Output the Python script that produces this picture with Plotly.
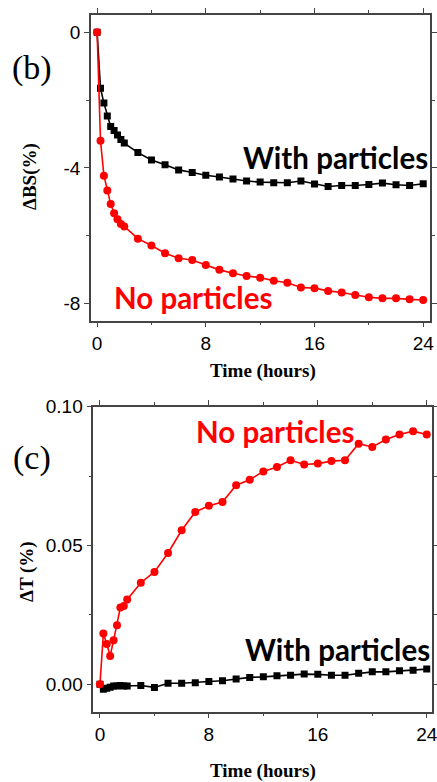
import plotly.graph_objects as go

# ---- data ----
time_h = [0, 0.25, 0.5, 0.75, 1, 1.25, 1.5, 1.75, 2, 3, 4, 5, 6, 7, 8, 9, 10, 11, 12,
          13, 14, 15, 16, 17, 18, 19, 20, 21, 22, 23, 24]

bs_with = [0, -1.65, -2.09, -2.47, -2.78, -2.90, -3.03, -3.16, -3.27, -3.55, -3.77, -3.91,
           -4.06, -4.14, -4.22, -4.27, -4.33, -4.39, -4.42, -4.44, -4.44, -4.39, -4.48,
           -4.55, -4.52, -4.52, -4.49, -4.45, -4.50, -4.52, -4.47]
bs_no = [0, -3.20, -4.23, -4.67, -5.07, -5.34, -5.52, -5.66, -5.73, -6.09, -6.29, -6.52,
         -6.67, -6.72, -6.87, -7.01, -7.11, -7.19, -7.24, -7.33, -7.39, -7.53, -7.55,
         -7.63, -7.68, -7.75, -7.82, -7.85, -7.85, -7.88, -7.90]

t_no = [0, 0.0183, 0.0145, 0.0102, 0.0159, 0.0213, 0.0277, 0.0282, 0.0306, 0.0366, 0.0405,
        0.0473, 0.0555, 0.0621, 0.0643, 0.0657, 0.0717, 0.0737, 0.0767, 0.0783, 0.0807,
        0.0792, 0.0795, 0.0804, 0.0807, 0.0867, 0.0855, 0.0882, 0.0900, 0.0912, 0.0900]
t_with = [0, -0.0018, -0.0014, -0.0010, -0.0006, -0.0006, -0.0004, -0.0006, -0.0006,
          -0.0004, -0.0011, 0.0004, 0.0004, 0.0006, 0.0010, 0.0013, 0.0019, 0.0025, 0.0027,
          0.0031, 0.0033, 0.0037, 0.0036, 0.0033, 0.0033, 0.0040, 0.0045, 0.0045, 0.0049,
          0.0051, 0.0055]

x_tickvals = [0, 8, 16, 24]
x_ticktext = ["0", "8", "16", "24"]
bs_tickvals = [0, -4, -8]
bs_ticktext = ["0", "-4", "-8"]
t_tickvals = [0.0, 0.05, 0.10]
t_ticktext = ["0.00", "0.05", "0.10"]

W, H = 437, 782
RED = "#FF0000"
BLACK = "#000000"
AX = "#444444"
TICKFONT = dict(family="Liberation Sans, Arial", size=19, color="#000")


def px(x):
    return x / W


def py(y):
    return 1 - y / H


fig = go.Figure()

fig.add_trace(go.Scatter(x=time_h, y=bs_with, mode="lines+markers",
                         line=dict(color=BLACK, width=1.6),
                         marker=dict(symbol="square", size=7, color=BLACK),
                         xaxis="x", yaxis="y", showlegend=False))
fig.add_trace(go.Scatter(x=time_h, y=bs_no, mode="lines+markers",
                         line=dict(color=RED, width=1.6),
                         marker=dict(symbol="circle", size=8, color=RED),
                         xaxis="x", yaxis="y", showlegend=False))
fig.add_trace(go.Scatter(x=time_h, y=t_with, mode="lines+markers",
                         line=dict(color=BLACK, width=1.6),
                         marker=dict(symbol="square", size=7, color=BLACK),
                         xaxis="x2", yaxis="y2", showlegend=False))
fig.add_trace(go.Scatter(x=time_h, y=t_no, mode="lines+markers",
                         line=dict(color=RED, width=1.6),
                         marker=dict(symbol="circle", size=8, color=RED),
                         xaxis="x2", yaxis="y2", showlegend=False))

axis_common = dict(showline=True, linecolor=AX, linewidth=1.5, mirror="allticks",
                   ticks="outside", ticklen=5, tickwidth=1.2, tickcolor=AX,
                   showgrid=False, zeroline=False, tickfont=TICKFONT, tickmode="array",
                   automargin=False, ticklabeloverflow="allow")

fig.update_layout(
    width=W, height=H,
    margin=dict(l=0, r=0, t=0, b=0, pad=0, autoexpand=False),
    paper_bgcolor="white", plot_bgcolor="white",
    xaxis=dict(domain=[px(91), px(430)], anchor="y", range=[-0.45, 24.5],
               tickvals=x_tickvals, ticktext=x_ticktext,
               minor=dict(tickmode="linear", tick0=0, dtick=4, ticks="outside",
                          ticklen=3, tickcolor=AX, tickwidth=1.2),
               **axis_common),
    yaxis=dict(domain=[py(320.7), py(15)], anchor="x", range=[-8.51, 0.51],
               tickvals=bs_tickvals, ticktext=bs_ticktext,
               minor=dict(tickmode="linear", tick0=0, dtick=2, ticks="outside",
                          ticklen=3, tickcolor=AX, tickwidth=1.2),
               **axis_common),
    xaxis2=dict(domain=[px(93.3), px(432.3)], anchor="y2", range=[-0.49, 24.41],
                tickvals=x_tickvals, ticktext=x_ticktext,
                minor=dict(tickmode="linear", tick0=0, dtick=4, ticks="outside",
                           ticklen=3, tickcolor=AX, tickwidth=1.2),
                **axis_common),
    yaxis2=dict(domain=[py(711.7), py(406.7)], anchor="x2", range=[-0.00985, 0.1],
                tickvals=t_tickvals, ticktext=t_ticktext,
                minor=dict(tickmode="linear", tick0=0, dtick=0.025, ticks="outside",
                           ticklen=3, tickcolor=AX, tickwidth=1.2),
                **axis_common),
)

LBL = dict(family="Lato, Open Sans, sans-serif", size=29.5)
SERIF_B = dict(family="Liberation Serif, Times New Roman, serif", size=19, color="#000")

annotations = [
    dict(text="<b>With particles</b>", x=px(335), y=py(157), font=dict(color=BLACK, **LBL)),
    dict(text="<b>No particles</b>", x=px(193), y=py(297), font=dict(color=RED, **LBL)),
    dict(text="<b>No particles</b>", x=px(275), y=py(432), font=dict(color=RED, **LBL)),
    dict(text="<b>With particles</b>", x=px(337), y=py(649), font=dict(color=BLACK, **LBL)),
    dict(text="(b)", x=px(32), y=py(68),
         font=dict(family="Liberation Serif, Times New Roman, serif", size=34, color="#000")),
    dict(text="(c)", x=px(32), y=py(458),
         font=dict(family="Liberation Serif, Times New Roman, serif", size=34, color="#000")),
    dict(text="<b>ΔBS(%)</b>", x=px(30), y=py(177), textangle=-90, font=SERIF_B),
    dict(text="<b>ΔT (%)</b>", x=px(27), y=py(572), textangle=-90, font=SERIF_B),
    dict(text="<b>Time (hours)</b>", x=px(263), y=py(371), font=SERIF_B),
    dict(text="<b>Time (hours)</b>", x=px(263), y=py(771), font=SERIF_B),
]
for a in annotations:
    a.update(xref="paper", yref="paper", showarrow=False, xanchor="center", yanchor="middle")
fig.update_layout(annotations=annotations)

fig.write_html("out.html",
               config={"displayModeBar": False},
               post_script="document.body.style.margin='0px';document.body.style.overflow='hidden';")
